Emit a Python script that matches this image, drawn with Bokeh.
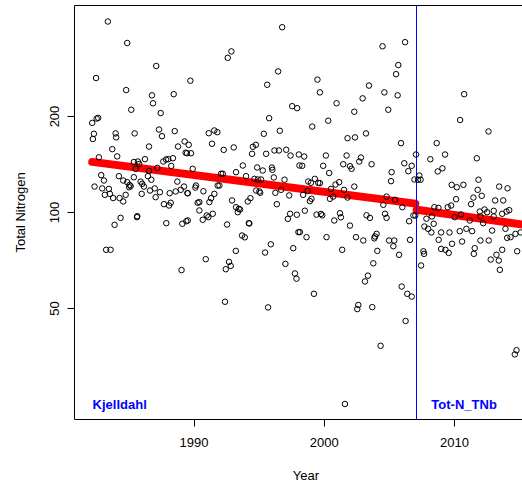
from bokeh.plotting import figure
from bokeh.models import FixedTicker, Label, LinearAxis
from bokeh.embed import file_html
from bokeh.resources import INLINE

# ---- data ----
years = [
    1983.38, 1984.87, 1987.10, 1982.48, 1984.79, 1986.77, 1986.85, 1988.44, 1989.72, 1985.18,
    1987.44, 1982.52, 1982.64, 1982.18, 1982.31, 1982.23, 1983.98, 1984.02, 1985.44, 1987.31,
    1987.54, 1988.52, 1989.28, 1988.77, 1989.36, 1986.54, 1983.72, 1984.10, 1982.69, 1986.23,
    1985.38, 1985.69, 1985.79, 1987.64, 1987.85, 1988.02, 1988.38, 1988.25, 1985.52, 1987.18,
    1986.54, 1982.87, 1983.08, 1984.23, 1984.56, 1984.87, 1985.05, 1985.13, 1985.02, 1985.38,
    1985.90, 1986.02, 1986.15, 1986.46, 1986.72, 1988.72, 1989.23, 1988.98, 1988.59, 1989.49,
    1982.36, 1982.95, 1983.46, 1983.54, 1983.15, 1983.79, 1984.28, 1984.56, 1984.75, 1985.98,
    1986.62, 1986.98, 1987.05, 1987.38, 1988.13, 1987.69, 1988.08, 1988.21, 1985.64, 1983.90,
    1984.36, 1985.62, 1987.87, 1989.10, 1989.41, 1983.25, 1983.59, 1989.04, 1990.90, 1992.44,
    1992.69, 1992.82, 1993.21, 1992.38, 1996.77, 1992.59, 1992.87, 1996.46, 1995.62, 1997.54,
    1997.92, 1995.77, 1995.36, 1996.59, 1991.13, 1991.56, 1991.79, 1991.38, 1992.28, 1993.05,
    1994.52, 1994.75, 1994.46, 1995.54, 1996.18, 1996.52, 1997.08, 1997.41, 1998.05, 1989.59,
    1989.77, 1989.46, 1989.90, 1993.75, 1993.23, 1994.85, 1995.28, 1995.98, 1996.02, 1998.10,
    1992.08, 1992.21, 1994.00, 1996.13, 1994.64, 1994.90, 1995.15, 1996.95, 1991.82, 1991.95,
    1990.15, 1990.10, 1990.72, 1991.56, 1991.31, 1991.18, 1990.41, 1990.28, 1992.92, 1993.23,
    1993.44, 1993.54, 1993.36, 1994.13, 1994.33, 1994.77, 1995.08, 1995.02, 1996.25, 1996.69,
    1997.31, 1996.36, 1997.38, 1997.90, 1990.41, 1990.98, 1991.44, 1989.52, 1989.52, 1990.67,
    1991.10, 1992.54, 1994.21, 1994.25, 1993.69, 1993.90, 1995.90, 1995.46, 1997.21, 1998.02,
    1997.62, 1997.02, 1997.75, 1997.87, 1995.69, 2006.21, 2004.48, 2005.69, 2005.52, 1999.48,
    2003.44, 1999.67, 2004.62, 2005.64, 2002.95, 2000.95, 2004.92, 2002.31, 2000.31, 1999.08,
    2003.21, 2001.79, 2002.36, 2005.90, 1998.46, 1998.31, 2000.13, 1999.92, 2000.38, 2001.72,
    2001.46, 2001.98, 2002.10, 2002.69, 2002.82, 2003.64, 2006.15, 2006.72, 2006.46, 2005.18,
    2005.13, 2006.93, 1999.28, 1998.77, 1998.98, 1999.54, 1999.67, 2000.87, 2001.15, 2000.52,
    2002.31, 2001.52, 1998.38, 1999.02, 1998.90, 1998.72, 2000.44, 2000.69, 2001.79, 2004.79,
    2005.44, 2004.54, 2006.00, 1998.51, 1999.41, 1999.75, 1999.85, 2001.21, 2001.28, 2003.25,
    2003.51, 2004.67, 2004.79, 2000.77, 2001.98, 2006.52, 2006.85, 1998.13, 1998.64, 2000.18,
    2002.44, 2003.00, 2003.90, 2004.02, 2003.85, 2004.98, 2005.38, 2005.31, 2005.75, 2006.59,
    2001.38, 2004.08, 2003.77, 2003.36, 2003.13, 1999.21, 2005.95, 2006.38, 2006.72, 2002.62,
    2002.54, 2003.69, 2006.25, 2004.33, 2001.59, 2010.75, 2010.44, 2012.62, 2008.64, 2007.05,
    2009.28, 2008.15, 2011.72, 2008.72, 2009.08, 2007.31, 2007.20, 2007.40, 2011.85, 2009.79,
    2010.18, 2010.69, 2011.79, 2012.10, 2011.46, 2013.44, 2014.08, 2010.13, 2013.13, 2013.75,
    2011.28, 2008.46, 2008.77, 2009.49, 2009.75, 2011.95, 2012.31, 2012.51, 2013.02, 2013.67,
    2014.00, 2014.21, 2007.00, 2007.85, 2008.28, 2008.41, 2007.69, 2007.98, 2008.23, 2008.98,
    2009.62, 2010.41, 2010.92, 2011.36, 2010.02, 2010.51, 2011.18, 2012.00, 2012.21, 2013.02,
    2012.90, 2013.92, 2014.31, 2014.69, 2015.08, 2014.05, 2008.79, 2009.82, 2010.59, 2012.00,
    2012.64, 2008.98, 2009.31, 2009.56, 2007.62, 2007.67, 2011.56, 2011.49, 2013.67, 2013.23,
    2012.79, 2013.41, 2013.49, 2014.82, 2007.44, 2014.77, 2014.64,
]
total_nitrogen = [
    397, 340, 288, 264, 242, 233, 220, 235, 259, 210,
    205, 197, 198, 191, 176.5, 170, 177, 172, 177, 182,
    173.5, 180, 167, 161, 154, 161, 158, 150, 149, 147,
    144, 144.5, 142, 144.5, 146.6, 147, 148, 140, 137, 138,
    135, 131, 126, 130, 126, 124.5, 122, 121, 120, 129,
    125, 123, 120.6, 130, 126.7, 125, 120.6, 117.8, 116.4, 115,
    120.6, 119, 118.6, 114.4, 113.6, 111, 111, 108.3, 113.6, 114.4,
    117.2, 119, 111.7, 115.8, 115, 106.2, 105.2, 107.3, 97.4, 91.5,
    96.2, 96.7, 92.6, 92.2, 93.9, 76.4, 76.4, 66, 71.4, 66.4,
    70, 68, 75.8, 52.5, 381, 305.5, 320, 277, 251.5, 215.5,
    212.4, 197.6, 176.5, 180.4, 177.3, 180.8, 178.6, 164.3, 157.2, 160,
    160.7, 163, 152.8, 152.8, 156.5, 156.5, 157.3, 150.9, 152, 163,
    153.4, 153.4, 137.1, 140.4, 133.8, 138.4, 135.4, 138.4, 136.1, 140.4,
    132.3, 132.3, 130, 128.8, 127.5, 126.9, 126.9, 126.7, 121.5, 121.5,
    121.5, 119.7, 116.6, 114.4, 110.9, 107.8, 107.8, 107.3, 109.1, 103.9,
    102.7, 102.2, 100.2, 108.3, 110.9, 117.2, 115.3, 116.4, 115.3, 117.8,
    113.1, 106.2, 99.1, 98.4, 101.5, 97.9, 99.1, 114.9, 94.4, 94.9,
    96.7, 91.7, 92.6, 92.4, 84.7, 83.6, 79.5, 74.9, 95.5, 86.8,
    77.3, 69, 64.4, 62, 50.4, 342, 332, 290, 271.5, 261,
    250, 238, 238, 233, 228, 220, 210, 207, 194, 186,
    177, 171, 172, 165, 149.8, 140.1, 150.9, 140.1, 133, 150.9,
    141.7, 139.7, 137.1, 144.5, 148.7, 141.7, 142.7, 140.1, 134.8, 133.8,
    125.4, 126.9, 127.5, 125.1, 123.9, 123.9, 123.6, 122.4, 124.5, 118.6,
    120.6, 117.8, 113.6, 110.4, 108.6, 116.9, 110.4, 112.2, 111.4, 112.2,
    109.6, 105.7, 103.9, 101.3, 98.5, 99, 98, 99.5, 96.6, 98,
    96.2, 99.1, 96.2, 94.4, 91, 93.9, 97.9, 86.8, 83.7, 83.7,
    83.7, 81.7, 84.1, 85.7, 83, 81.7, 81.7, 78.4, 73.7, 82.1,
    76.4, 75.8, 69.3, 63.4, 60.8, 55.6, 58.6, 55.6, 54.5, 51.3,
    49.8, 50.5, 45.7, 38.2, 25.1, 235, 195, 179.5, 165, 152,
    152, 146.9, 147.9, 134.5, 137.6, 130.6, 126.7, 126.7, 126.7, 122.1,
    120, 122.1, 117.8, 112.8, 111.4, 120.6, 119.1, 110.1, 109.1, 109.1,
    106.2, 103.9, 103.4, 103.9, 105.2, 100.7, 102.2, 100.2, 101.2, 99.1,
    100.7, 101.7, 97.9, 95.6, 97.2, 92.2, 90.4, 88.9, 86.6, 86.6,
    86.6, 87.4, 88.9, 87.4, 96.7, 98.6, 94.4, 97.2, 92.6, 97.2,
    87.8, 88.9, 83.7, 85.7, 86.6, 83.3, 82.1, 79.8, 81.1, 81.7,
    81.7, 76.9, 76.4, 74.7, 75.6, 74.2, 77.3, 74.2, 76.4, 73.7,
    71.2, 70.7, 66.1, 75.6, 68.2, 37, 35.9,
]

# trend (two periods: Kjelldahl method, then Tot-N_TNb method)
trend1_years = [1982.18, 2007.00]
trend1_values = [144.1, 106.6]
trend2_years = [2007.10, 2015.30]
trend2_values = [102.0, 91.6]

method_change_year = 2007.08
method_labels = ["Kjelldahl", "Tot-N_TNb"]
method_label_years = [1982.21, 2008.23]
method_label_value = 25.0

x_ticks = [1990, 2000, 2010]
x_tick_labels = ["1990", "2000", "2010"]
y_ticks = [50, 100, 200]
y_tick_labels = ["50", "100", "200"]
x_title = "Year"
x_title_year = 1998.6   # centre of the x title (original plot ran past the right edge)

FONT = "Liberation Sans"

p = figure(width=522, height=486, y_axis_type="log",
           x_range=(1980.82, 2015.23), y_range=(22.44, 445.7),
           output_backend="svg", toolbar_location=None,
           min_border_left=74, min_border_right=0,
           min_border_top=5, min_border_bottom=67)
p.outline_line_color = None
p.grid.visible = False
p.background_fill_color = "white"
p.border_fill_color = "white"

for ax in (p.xaxis[0], p.yaxis[0]):
    ax.major_tick_in = 0
    ax.major_tick_out = 7
    ax.minor_tick_line_color = None
    ax.axis_line_color = "black"
    ax.major_tick_line_color = "black"
    ax.major_label_text_font = FONT
    ax.major_label_text_font_size = "13px"
    ax.major_label_text_color = "black"
    ax.axis_label_text_font = FONT
    ax.axis_label_text_font_size = "13px"
    ax.axis_label_text_font_style = "normal"
    ax.axis_label_text_color = "black"

p.xaxis.ticker = FixedTicker(ticks=x_ticks)
p.xaxis.major_label_overrides = dict(zip(x_ticks, x_tick_labels))
p.xaxis.major_label_standoff = 11

p.yaxis.ticker = FixedTicker(ticks=y_ticks)
p.yaxis.major_label_overrides = dict(zip(y_ticks, y_tick_labels))
p.yaxis.major_label_orientation = "vertical"
p.yaxis.major_label_standoff = 8
p.yaxis.axis_label = "Total Nitrogen"
p.yaxis.axis_label_standoff = 20

top = LinearAxis(ticker=FixedTicker(ticks=[]), major_tick_in=0, major_tick_out=0,
                 minor_tick_in=0, minor_tick_out=0, major_label_text_font_size="0px",
                 major_label_standoff=0, axis_line_color="black")
p.add_layout(top, "above")

# x title, placed as a single label under the year axis
title_axis = LinearAxis(ticker=FixedTicker(ticks=[x_title_year]),
                        major_label_overrides={x_title_year: x_title},
                        axis_line_color=None, major_tick_line_color=None,
                        minor_tick_line_color=None, major_tick_in=0, major_tick_out=0,
                        major_label_standoff=18, major_label_text_font=FONT,
                        major_label_text_font_size="13px", major_label_text_color="black")
p.add_layout(title_axis, "below")

# trend lines
p.line(trend1_years, trend1_values, line_color="#FF0000", line_width=8, line_cap="round")
p.line(trend2_years, trend2_values, line_color="#FF0000", line_width=8, line_cap="round")

# method change
p.vspan(x=[method_change_year], line_color="#0000FF", line_width=1)

# observations
p.scatter(years, total_nitrogen, marker="circle", size=5.5, fill_color=None,
          line_color="black", line_width=1)

for txt, yr in zip(method_labels, method_label_years):
    p.add_layout(Label(x=yr, y=method_label_value, text=txt, text_font=FONT,
                       text_font_size="13px", text_font_style="bold",
                       text_color="#0000FF", text_baseline="alphabetic"))

open("out.html", "w").write(file_html(p, INLINE))
